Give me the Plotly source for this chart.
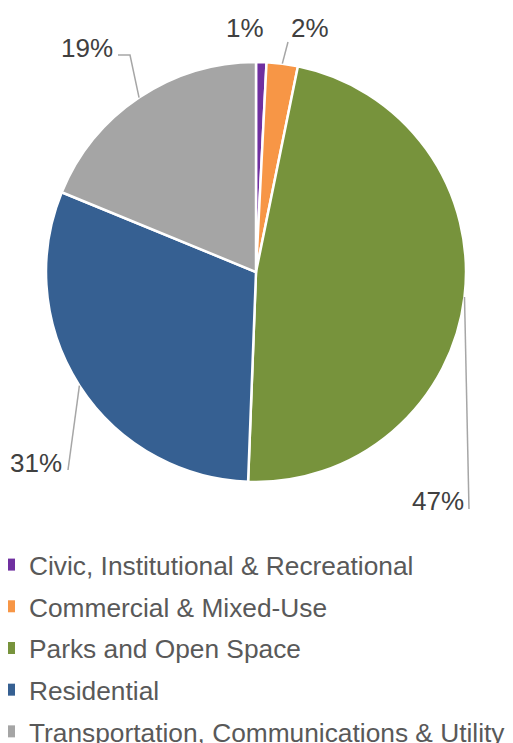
import math
import plotly.graph_objects as go

# ---- data ----
categories = [
    "Civic, Institutional & Recreational",
    "Commercial & Mixed-Use",
    "Parks and Open Space",
    "Residential",
    "Transportation, Communications & Utility",
]
shares = [0.8, 2.4, 47.4, 30.6, 18.8]
colors = ["#7030A0", "#F79646", "#77933C", "#366092", "#A5A5A5"]

# ---- layout constants (screen pixels; page body has an 8px margin) ----
OFF = 8
FW, FH = 513, 743 - OFF
CX, CY, R = 256, 272, 210
label_pos = [(245, 28), (310, 28), (438, 501), (36, 463), (87, 48)]
leader_tail = [[], [(288, 42)], [(469, 509)], [(68, 470)], [(130, 55), (118, 55)]]
FONT = "Arial, 'Liberation Sans', sans-serif"


def paper(x, y):
    return (x - OFF) / FW, 1 - (y - OFF) / FH


fig = go.Figure()
x0, y0 = paper(CX - R, CY + R)
x1, y1 = paper(CX + R, CY - R)
fig.add_trace(go.Pie(
    labels=categories, values=shares, sort=False, direction="clockwise",
    rotation=0, marker=dict(colors=colors, line=dict(color="white", width=2.5)),
    textinfo="none", showlegend=False, hole=0,
    domain=dict(x=[x0, x1], y=[y0, y1]),
))

# legend entries
for cat, col in zip(categories, colors):
    fig.add_trace(go.Scatter(
        x=[None], y=[None], mode="markers", name=cat, legendgroup=cat,
        marker=dict(symbol="square", size=12, color=col), showlegend=True,
    ))

total = sum(shares)
cum = 0
annotations, shapes = [], []
for i, v in enumerate(shares):
    mid = (cum + v / 2) / total * 2 * math.pi
    cum += v
    ax_, ay_ = CX + R * math.sin(mid), CY - R * math.cos(mid)
    tx, ty = label_pos[i]
    px, py = paper(tx, ty)
    annotations.append(dict(
        x=px, y=py, xref="paper", yref="paper", showarrow=False,
        text=f"{round(v / total * 100)}%", xanchor="center", yanchor="middle",
        font=dict(size=26, color="#404040", family=FONT),
    ))
    if leader_tail[i]:
        pts = [(ax_, ay_)] + leader_tail[i]
        path = "M " + " L ".join(f"{paper(x, y)[0]},{paper(x, y)[1]}" for x, y in pts)
        shapes.append(dict(type="path", xref="paper", yref="paper", path=path,
                           line=dict(color="#A6A6A6", width=1.5)))

lx, ly = paper(29 - 40, 541)
fig.update_layout(
    width=FW, height=FH, margin=dict(l=0, r=0, t=0, b=0, autoexpand=False),
    paper_bgcolor="white", plot_bgcolor="white",
    xaxis=dict(visible=False), yaxis=dict(visible=False),
    annotations=annotations, shapes=shapes,
    legend=dict(x=lx, y=ly, xanchor="left", yanchor="top",
                traceorder="grouped", tracegroupgap=4.5,
                font=dict(size=26.3, color="#595959", family=FONT),
                bgcolor="rgba(0,0,0,0)"),
)
fig.write_html("out.html")
